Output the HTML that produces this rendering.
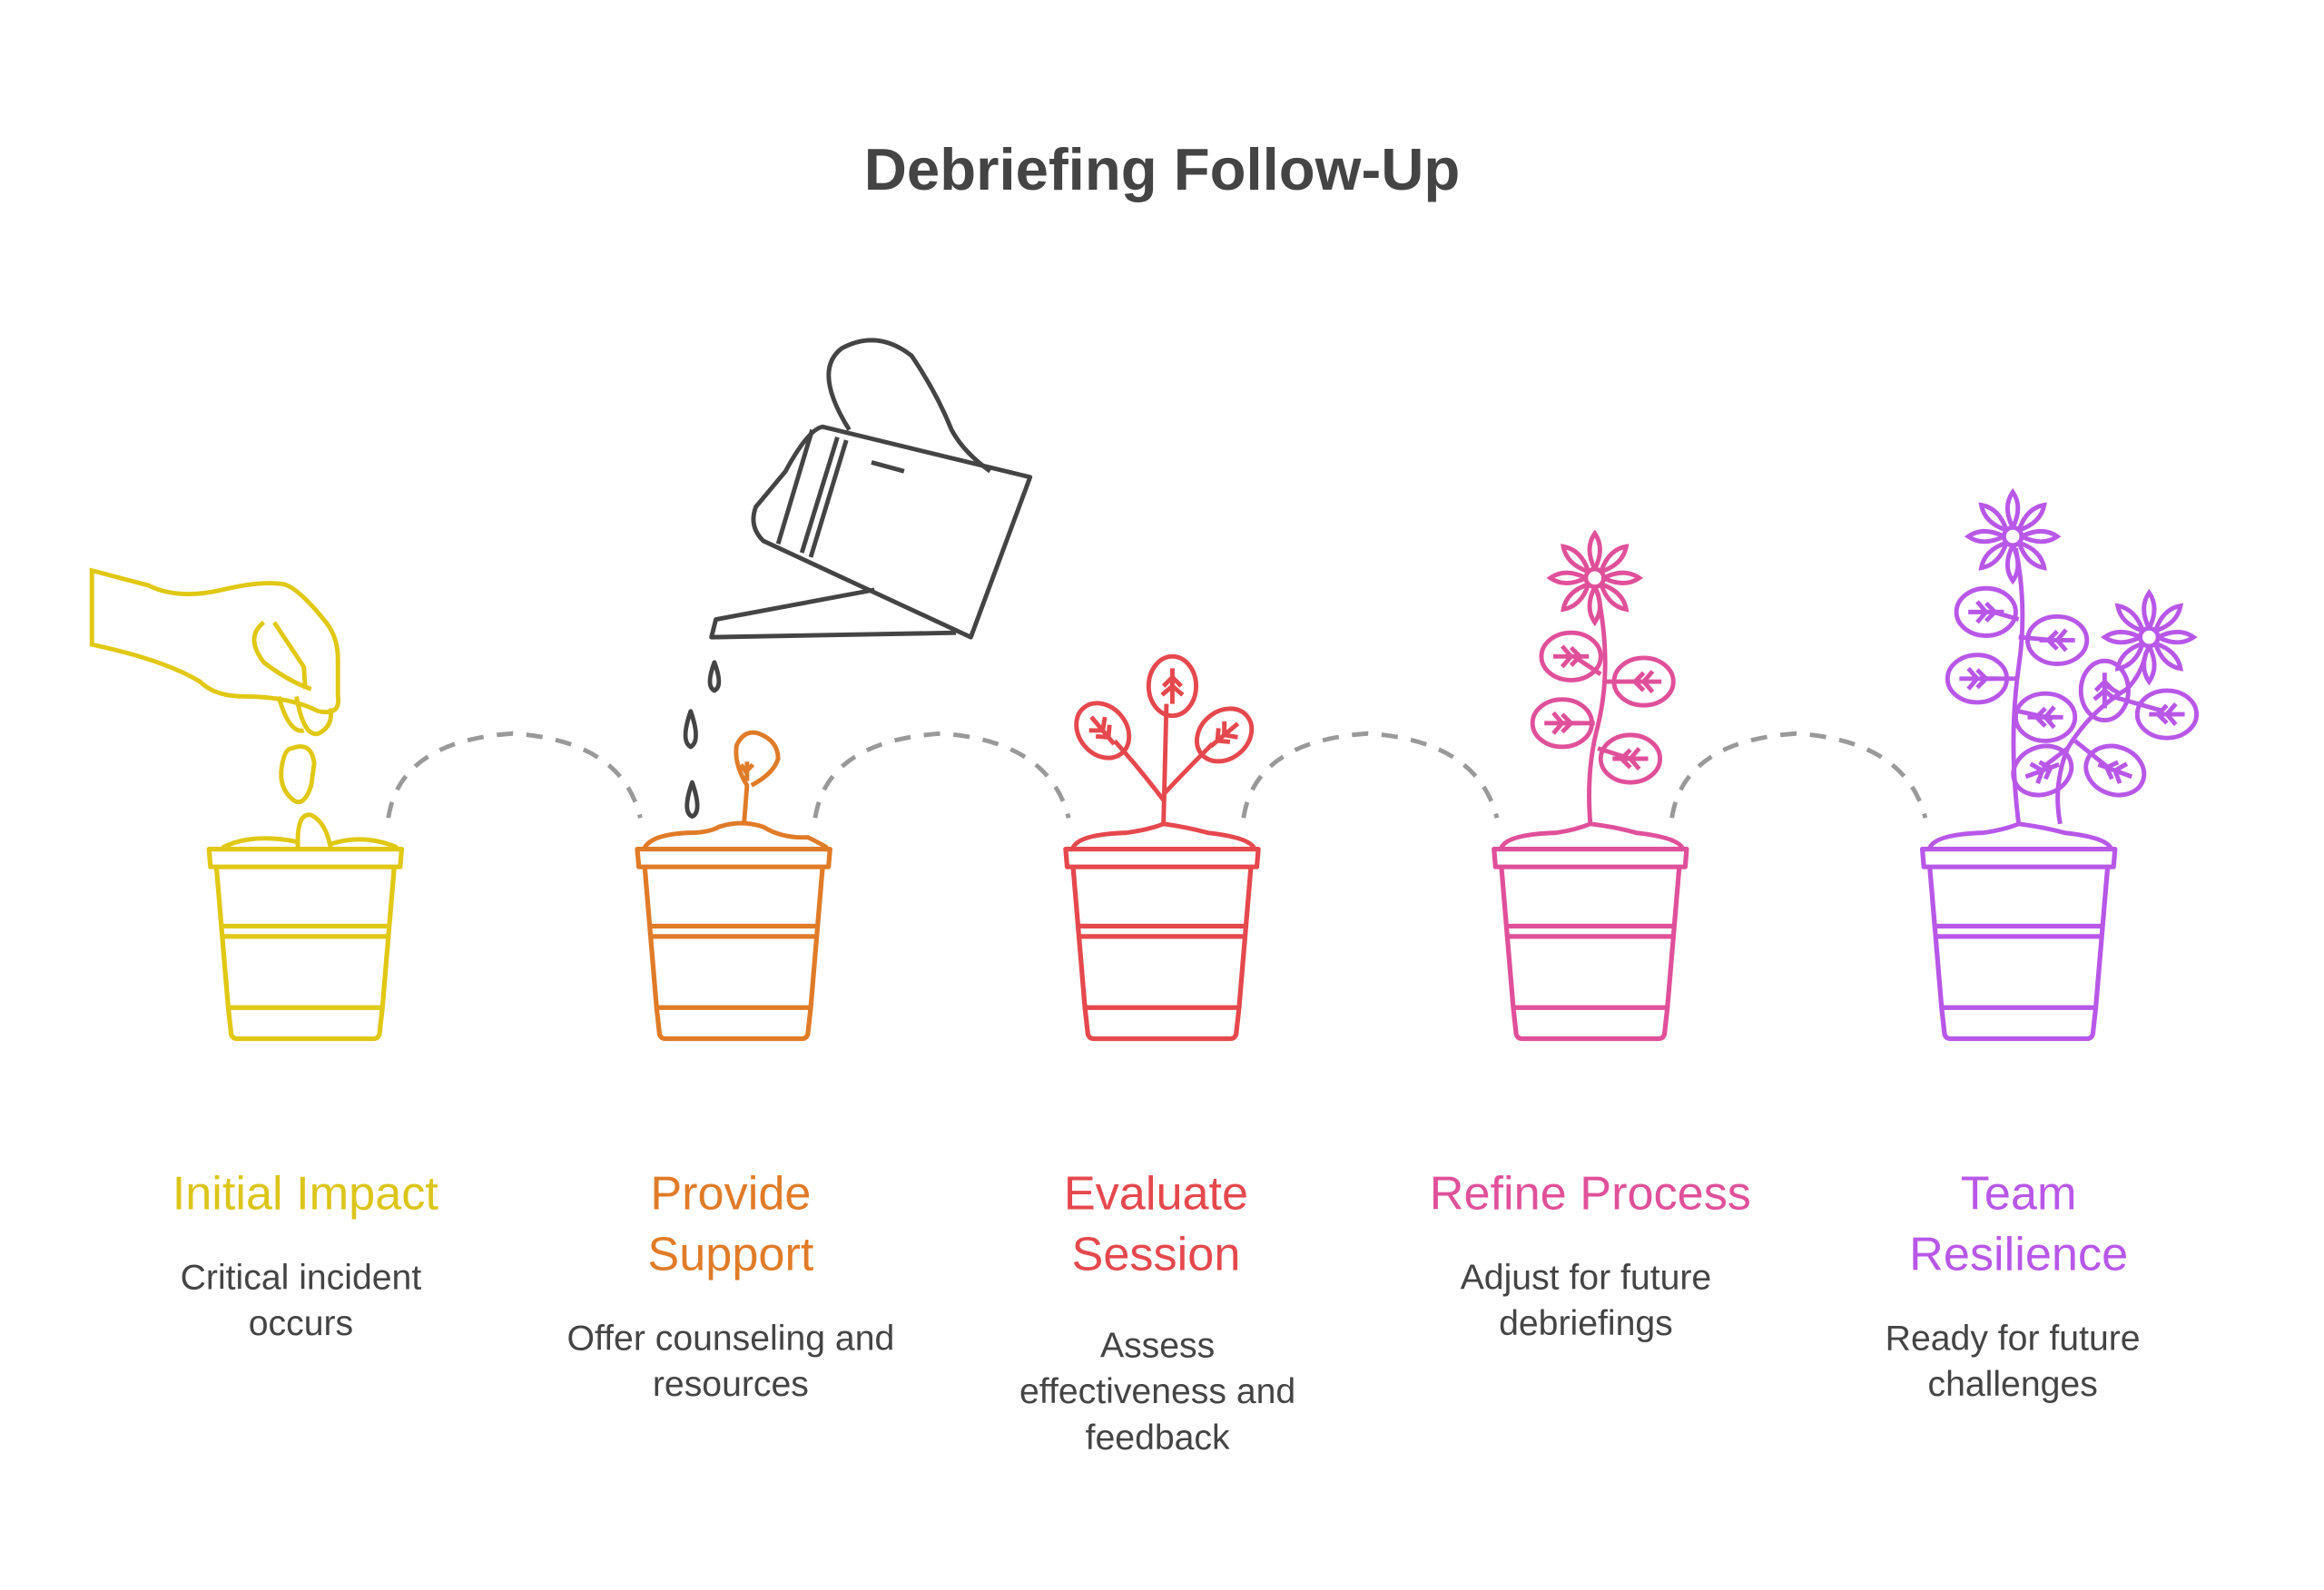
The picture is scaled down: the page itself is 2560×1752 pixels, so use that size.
<!DOCTYPE html>
<html><head><meta charset="utf-8"><style>
html,body{margin:0;padding:0;background:#fff;}
svg{display:block}
text{font-family:"Liberation Sans",sans-serif;}
</style></head><body>
<svg width="2560" height="1752" viewBox="0 0 1568 1073" xmlns="http://www.w3.org/2000/svg">
<rect width="1568" height="1073" fill="#fff"/>
<text x="784" y="128" text-anchor="middle" font-size="40" font-weight="bold" fill="#444">Debriefing Follow-Up</text>

<defs>
<g id="pot" fill="none" stroke-width="3.2" stroke-linejoin="round">
  <path d="M-65,573 L65,573 L64,585 L-64,585 Z"/>
  <path d="M-60,585 L-52,680 M60,585 L52,680"/>
  <path d="M-56,625 L56,625 M-55,632 L55,632"/>
  <path d="M-52,680 L52,680 L50,698 Q49,701 46,701 L-46,701 Q-49,701 -50,698 Z"/>
</g>
<g id="leaf" fill="none" stroke-width="3">
  <ellipse cx="0" cy="0" rx="20" ry="16"/>
  <path d="M-12,0 L12,0 M0,0 L-6,-7 M0,0 L-6,7 M6,0 L0,-6 M6,0 L0,6"/>
</g>
<g id="flower" fill="none" stroke-width="3">
  <g id="pet"><path d="M0,-6 Q-7,-20 0,-30 Q7,-20 0,-6"/></g>
  <use href="#pet" transform="rotate(45)"/><use href="#pet" transform="rotate(90)"/>
  <use href="#pet" transform="rotate(135)"/><use href="#pet" transform="rotate(180)"/>
  <use href="#pet" transform="rotate(225)"/><use href="#pet" transform="rotate(270)"/>
  <use href="#pet" transform="rotate(315)"/>
  <circle r="6"/>
</g>
</defs>

<!-- dashed arcs -->
<g fill="none" stroke="#999" stroke-width="3" stroke-dasharray="11 9">
  <path d="M262,552 Q270,500 346,495 Q420,500 432,552"/>
  <path d="M550,552 Q558,500 635,495 Q708,500 721,552"/>
  <path d="M839,552 Q847,500 923,495 Q997,500 1010,552"/>
  <path d="M1128,552 Q1136,500 1212,495 Q1286,500 1299,552"/>
</g>

<!-- Stage 1 -->
<g stroke="#e0c814" fill="none">
  <use href="#pot" x="206" stroke="#e0c814"/>
  <path d="M150,572 Q170,562 200,568 M222,570 Q245,562 268,572" stroke-width="3"/>
  <path d="M201,572 Q200,548 210,550 Q220,555 223,572" stroke-width="3"/>
  <path d="M62,385 L62,435 Q110,445 135,460 Q145,470 165,470 Q195,470 215,480 Q230,483 228,470 L228,445 Q228,430 220,420 Q200,395 190,394 Q175,392 150,398 Q120,405 100,395 Z" stroke-width="3"/>
  <path d="M178,420 Q165,430 178,447 Q195,460 210,465" stroke-width="3"/>
  <path d="M185,420 L205,450 L206,465" stroke-width="3"/>
  <path d="M188,470 Q195,495 205,493 M200,470 Q205,498 215,495 Q225,490 223,478" stroke-width="3"/>
  <path d="M197,505 Q210,500 212,515 L210,530 Q205,545 198,540 Q188,532 190,518 Q192,505 197,505 Z" stroke-width="3"/>
</g>

<!-- Watering can -->
<g stroke="#444" fill="none" stroke-width="3" stroke-linejoin="round">
  <path d="M573,290 Q548,250 568,235 Q592,222 615,240 Q632,265 642,290 Q650,305 668,318"/>
  <path d="M555,288 L695,322 L655,430 L515,365 Q505,355 510,342 Q520,330 530,318 Q545,290 555,288 Z"/>
  <path d="M548,290 L525,367 M565,295 L541,373 M571,297 L547,376 M588,312 L610,318"/>
  <path d="M590,398 L483,418 L480,430 L645,427"/>
  <path d="M482,447 Q476,463 482,466 Q488,463 482,447 Z M466,480 Q459,500 466,504 Q473,500 466,480 Z M467,528 Q460,548 467,551 Q474,548 467,528 Z"/>
</g>

<!-- Stage 2 -->
<g stroke="#e07b28" fill="none" stroke-width="3">
  <use href="#pot" x="495"/>
  <path d="M435,572 Q440,563 465,562 Q478,562 485,558 Q500,553 515,558 Q528,566 545,565 Q555,570 558,572"/>
  <path d="M502,556 L504,530 Q495,515 497,503 Q502,492 512,495 Q525,500 525,512 Q522,522 507,530 M504,527 L504,514 M504,520 L508,516 M504,522 L500,516"/>
</g>

<!-- Stage 3 -->
<g stroke="#e5484d" fill="none" stroke-width="3">
  <use href="#pot" x="784"/>
  <path d="M724,572 Q728,563 760,562 Q775,560 785,556 Q800,558 815,562 Q842,565 846,572"/>
  <path d="M785,556 L787,475 M785,540 Q770,520 752,500 M786,535 Q800,520 818,502"/>
  <use href="#leaf" transform="translate(744,493) rotate(50)"/>
  <use href="#leaf" transform="translate(791,463) rotate(-90)"/>
  <use href="#leaf" transform="translate(826,496) rotate(140)"/>
</g>

<!-- Stage 4 -->
<g stroke="#e0509a" fill="none" stroke-width="3">
  <use href="#pot" x="1073"/>
  <path d="M1013,572 Q1017,563 1050,562 Q1063,560 1073,556 Q1090,558 1104,562 Q1131,565 1135,572"/>
  <path d="M1073,556 Q1070,520 1078,490 Q1088,450 1078,400"/>
  <path d="M1080,455 L1062,443 M1082,460 L1106,460 M1076,488 L1055,488 M1078,505 L1100,512"/>
  <use href="#leaf" transform="translate(1060,443) rotate(0)"/>
  <use href="#leaf" transform="translate(1109,460) rotate(180)"/>
  <use href="#leaf" transform="translate(1054,488) rotate(0)"/>
  <use href="#leaf" transform="translate(1100,512) rotate(180)"/>
  <use href="#flower" transform="translate(1076,390)"/>
</g>

<!-- Stage 5 -->
<g stroke="#b857e8" fill="none" stroke-width="3">
  <use href="#pot" x="1362"/>
  <path d="M1302,572 Q1306,563 1338,562 Q1352,560 1362,556 Q1378,558 1393,562 Q1420,565 1424,572"/>
  <path d="M1362,556 Q1355,500 1362,450 Q1368,410 1360,370"/>
  <path d="M1390,556 Q1385,530 1395,505 Q1410,480 1435,465 Q1445,455 1448,440"/>
  <path d="M1362,418 L1345,413 M1362,430 L1385,432 M1360,458 L1338,458 M1362,480 L1385,485 M1395,505 L1378,518 M1400,500 L1425,520 M1425,470 L1460,480 M1430,468 L1420,462"/>
  <use href="#leaf" transform="translate(1340,413)"/>
  <use href="#leaf" transform="translate(1388,432) rotate(180)"/>
  <use href="#leaf" transform="translate(1334,458)"/>
  <use href="#leaf" transform="translate(1380,484) rotate(180)"/>
  <use href="#leaf" transform="translate(1378,520) rotate(-20)"/>
  <use href="#leaf" transform="translate(1427,520) rotate(200)"/>
  <use href="#leaf" transform="translate(1420,466) rotate(-90)"/>
  <use href="#leaf" transform="translate(1462,482) rotate(180)"/>
  <use href="#flower" transform="translate(1358,362)"/>
  <use href="#flower" transform="translate(1450,430)"/>
</g>

<!-- Labels -->
<g font-size="32" text-anchor="middle">
  <text x="206" y="816" fill="#dcc51a">Initial Impact</text>
  <text x="493" y="816" fill="#e07b28">Provide</text>
  <text x="493" y="857" fill="#e07b28">Support</text>
  <text x="780" y="816" fill="#e5484d">Evaluate</text>
  <text x="780" y="857" fill="#e5484d">Session</text>
  <text x="1073" y="816" fill="#e0509a">Refine Process</text>
  <text x="1362" y="816" fill="#b857e8">Team</text>
  <text x="1362" y="857" fill="#b857e8">Resilience</text>
</g>
<g font-size="24" text-anchor="middle" fill="#444">
  <text x="203" y="870">Critical incident</text>
  <text x="203" y="901">occurs</text>
  <text x="493" y="911">Offer counseling and</text>
  <text x="493" y="942">resources</text>
  <text x="781" y="916">Assess</text>
  <text x="781" y="947">effectiveness and</text>
  <text x="781" y="978">feedback</text>
  <text x="1070" y="870">Adjust for future</text>
  <text x="1070" y="901">debriefings</text>
  <text x="1358" y="911">Ready for future</text>
  <text x="1358" y="942">challenges</text>
</g>
</svg>
</body></html>
